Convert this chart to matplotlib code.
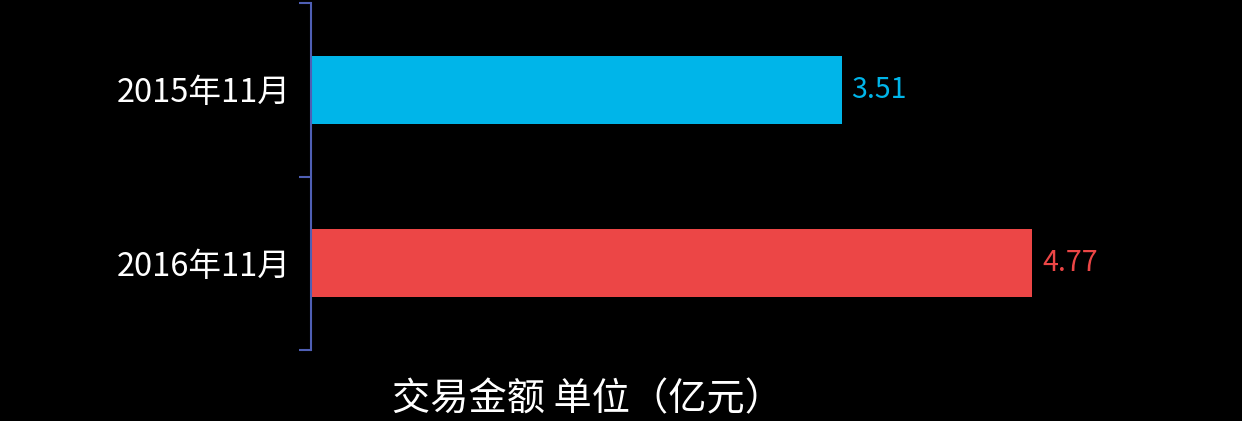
import matplotlib
matplotlib.use('Agg')
import matplotlib.pyplot as plt

plt.rcParams['font.family'] = ['Noto Sans CJK SC', 'DejaVu Sans']

# Data
periods = ['2015年11月', '2016年11月']
amounts = [3.51, 4.77]
colors = ['#00B5E9', '#EC4646']
xlabel = '交易金额 单位（亿元）'

fig = plt.figure(figsize=(12.42, 4.21), dpi=100, facecolor='black')
ax = fig.add_axes([0.2504, 0.1686, 0.6696, 0.8243], facecolor='black')

ypos = list(range(len(periods)))
ax.barh(ypos, amounts, height=0.39, color=colors)

# Value labels next to each bar
for y, v, c in zip(ypos, amounts, colors):
    ax.annotate(f'{v:.2f}', xy=(v, y), xytext=(7, 0), textcoords='offset points',
                ha='left', va='center', fontsize=20.5, color=c)

ax.set_xlim(0, 5.5)
ax.set_ylim(len(periods) - 0.5, -0.5)

# Category boundaries get the tick marks, labels sit in the middle
ax.set_yticks([-0.5, 0.5, 1.5])
ax.set_yticklabels([])
ax.set_yticks(ypos, minor=True)
ax.set_yticklabels(periods, minor=True)
ax.tick_params(axis='y', which='major', length=8.6, width=1.5, color='#4F5FB5')
ax.tick_params(axis='y', which='minor', length=0, pad=15, labelsize=23.5, labelcolor='white')

ax.set_xticks([])
# axis title sits left of the plot centre in the original
fig.text(0.473, 0.05, xlabel, fontsize=27.5, color='white', ha='center', va='center')

for s in ['top', 'right', 'bottom']:
    ax.spines[s].set_visible(False)
ax.spines['left'].set_color('#4F5FB5')
ax.spines['left'].set_linewidth(1.5)

fig.savefig('out.png', dpi=100, facecolor='black')
